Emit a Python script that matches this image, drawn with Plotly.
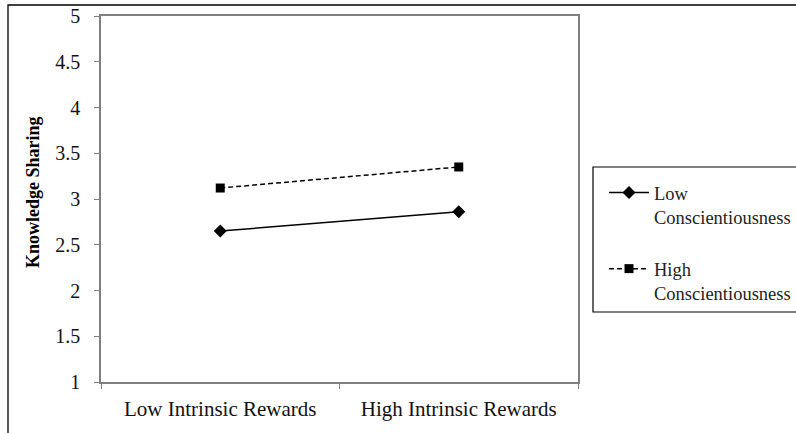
import plotly.graph_objects as go

categories = ["Low Intrinsic Rewards", "High Intrinsic Rewards"]
low_consc = [2.65, 2.86]
high_consc = [3.12, 3.35]
series_names = ["Low<br>Conscientiousness", "High<br>Conscientiousness"]
y_ticks = [1, 1.5, 2, 2.5, 3, 3.5, 4, 4.5, 5]

W, H = 796, 433
L, R, T, B = 101, 578, 16, 382  # plot area in pixels


def px_x(p):
    return (p - L) / (R - L)


def px_y(p):
    return (B - p) / (B - T)


serif = "Liberation Serif"

fig = go.Figure()
fig.add_trace(go.Scatter(
    x=categories, y=low_consc, name=series_names[0], mode="lines+markers",
    line=dict(color="black", width=1.5),
    marker=dict(symbol="diamond", size=10, color="black"),
    legendgroup="a",
))
fig.add_trace(go.Scatter(
    x=categories, y=high_consc, name=series_names[1], mode="lines+markers",
    line=dict(color="black", width=1.5, dash="5px,3px"),
    marker=dict(symbol="square", size=9, color="black"),
    legendgroup="b",
))

fig.update_layout(
    width=W, height=H,
    margin=dict(l=L, r=W - R, t=T, b=H - B, pad=0, autoexpand=False),
    paper_bgcolor="white", plot_bgcolor="white",
    font=dict(family=serif, color="black", size=19),
    showlegend=True,
    legend=dict(
        x=px_x(604), y=px_y(174), xanchor="left", yanchor="top",
        bgcolor="rgba(0,0,0,0)", borderwidth=0,
        font=dict(size=18.5, family=serif, color="#222"),
        valign="top", tracegroupgap=25, itemwidth=40,
    ),
    xaxis=dict(
        type="category", range=[-0.5, 1.5],
        tickson="boundaries", ticks="outside", ticklen=5, tickcolor="#808080",
        showline=True, linecolor="#808080", linewidth=1.5, mirror=True,
        showgrid=False, zeroline=False,
        tickfont=dict(size=21, family=serif, color="#111"),
        ticklabelstandoff=7,
    ),
    yaxis=dict(
        range=[1, 5], tickvals=y_ticks, ticktext=[f"{v:g}" for v in y_ticks],
        ticks="outside", ticklen=5, tickcolor="#808080",
        showline=True, linecolor="#808080", linewidth=1.5, mirror=True,
        showgrid=False, zeroline=False,
        tickfont=dict(size=20, family=serif, color="#111"),
        ticklabelstandoff=10,
    ),
)

# outer chart frame
fig.add_shape(type="rect", xref="paper", yref="paper",
              x0=px_x(8), x1=px_x(802), y0=px_y(445), y1=px_y(5),
              line=dict(color="black", width=1.3), layer="below")
# legend frame
fig.add_shape(type="rect", xref="paper", yref="paper",
              x0=px_x(593), x1=px_x(802), y0=px_y(312), y1=px_y(167),
              line=dict(color="black", width=1.2), layer="below")

# y-axis title
fig.add_annotation(
    text="<b>Knowledge Sharing</b>", xref="paper", yref="paper",
    x=px_x(33), y=px_y(192), textangle=-90, showarrow=False,
    xanchor="center", yanchor="middle",
    font=dict(size=18, family=serif, color="black"),
)

fig.write_html("out.html", config={"displayModeBar": False},
               post_script="document.body.style.margin='0';")
